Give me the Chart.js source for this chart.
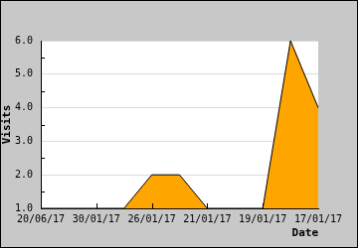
<!DOCTYPE html>
<html lang="en">
<head>
    <meta charset="UTF-8">
    <title>Visits by date</title>
    <script src="https://cdn.jsdelivr.net/npm/chart.js"></script>
    <style>
        body { margin: 0; }
        canvas { display: block; border: 1px solid #000; background: #c8c8c8; }
    </style>
</head>
<body>
    <canvas id="myChart" width="358" height="248"></canvas>
    <script>
    // dates (only every second one is labelled on the axis)
    const dates = ['20/06/17', '31/01/17', '30/01/17', '27/01/17', '26/01/17', '24/01/17',
                   '21/01/17', '20/01/17', '19/01/17', '18/01/17', '17/01/17'];
    const visits = [1, 1, 1, 1, 2, 2, 1, 1, 1, 6, 4];
    const yMin = 1;
    const yMax = 6;

    const monoFont = { family: 'DejaVu Sans Mono', size: 10 };
    const titleFont = { family: 'DejaVu Sans Mono', size: 11, weight: 'bold' };

    // white plot area
    const plotBg = {
        id: 'plotBg',
        beforeDraw(chart) {
            const a = chart.chartArea;
            chart.ctx.save();
            chart.ctx.fillStyle = '#fff';
            chart.ctx.fillRect(a.left, a.top, a.right - a.left, a.bottom - a.top);
            chart.ctx.restore();
        }
    };

    // small tick marks drawn inside the plot area
    const innerTicks = {
        id: 'innerTicks',
        afterDatasetsDraw(chart) {
            const ctx = chart.ctx;
            const area = chart.chartArea;
            const x = chart.scales.x;
            const y = chart.scales.y;
            ctx.save();
            ctx.strokeStyle = '#000';
            ctx.lineWidth = 1;
            ctx.beginPath();
            for (let v = yMin + 0.5; v < yMax; v += 1) {
                const py = Math.round(y.getPixelForValue(v)) + 0.5;
                ctx.moveTo(area.left, py);
                ctx.lineTo(area.left + 4, py);
            }
            for (let i = 2; i < dates.length - 1; i += 2) {
                const px = Math.round(x.getPixelForValue(i)) + 0.5;
                ctx.moveTo(px, area.bottom);
                ctx.lineTo(px, area.bottom - 5);
            }
            ctx.stroke();
            ctx.restore();
        }
    };

    const ctx = document.getElementById('myChart').getContext('2d');
    const myChart = new Chart(ctx, {
        type: 'line',
        data: {
            labels: dates,
            datasets: [{
                data: visits,
                fill: 'start',
                backgroundColor: '#ffa500',
                borderColor: '#000',
                borderWidth: 1,
                tension: 0,
                pointRadius: 0
            }]
        },
        options: {
            responsive: false,
            animation: false,
            layout: { padding: { top: 40, right: 39, left: 0, bottom: 0 } },
            plugins: {
                legend: { display: false },
                tooltip: { enabled: false }
            },
            scales: {
                x: {
                    afterFit: s => { s.height = 39; },
                    grid: { display: false, drawTicks: false },
                    border: { color: '#000', width: 1 },
                    ticks: {
                        autoSkip: false,
                        maxRotation: 0,
                        padding: 5,
                        color: '#000',
                        font: monoFont,
                        callback: function (val, i) { return i % 2 === 0 ? dates[i] : ''; }
                    },
                    title: {
                        display: true,
                        text: 'Date',
                        align: 'end',
                        color: '#000',
                        font: titleFont,
                        padding: { top: 0, bottom: 7 }
                    }
                },
                y: {
                    min: yMin,
                    max: yMax,
                    afterFit: s => { s.width = 40; },
                    grid: { color: '#dcdcdc', drawTicks: false },
                    border: { color: '#000', width: 1 },
                    ticks: {
                        stepSize: 1,
                        padding: 8,
                        color: '#000',
                        font: monoFont,
                        callback: v => v.toFixed(1)
                    },
                    title: {
                        display: true,
                        text: 'Visits',
                        color: '#000',
                        font: titleFont,
                        padding: { top: 0, bottom: 0 }
                    }
                }
            }
        },
        plugins: [plotBg, innerTicks]
    });
    </script>
</body>
</html>
